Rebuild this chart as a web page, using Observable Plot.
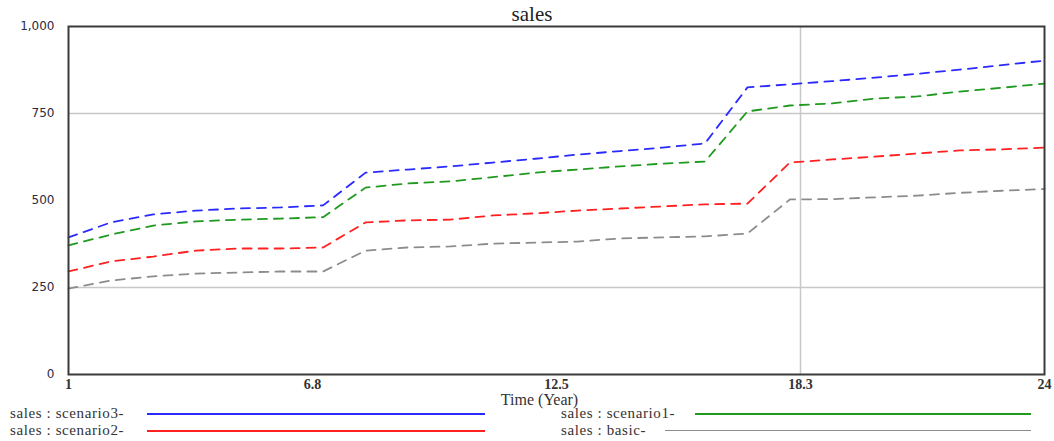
<!DOCTYPE html>
<html>
<head>
<meta charset="utf-8">
<script src="https://cdn.jsdelivr.net/npm/d3@7"></script>
<script src="https://cdn.jsdelivr.net/npm/@observablehq/plot@0.6"></script>
<style>
  body { margin: 0; background: #fff; }
  #wrap { position: relative; width: 1054px; height: 441px; overflow: hidden; }
  #title { position: absolute; left: 0; width: 1064px; top: 2px; text-align: center; font: 21px "Liberation Serif", serif; color: #222; }
  #chart { position: absolute; left: 0; top: 0; }
  .lg { position: absolute; font: 15px "Liberation Serif", serif; letter-spacing: 0.6px; color: #333; white-space: nowrap; line-height: 15px; }
  .ll { position: absolute; height: 2px; }
</style>
</head>
<body>
<div id="wrap">
  <div id="chart"></div>
  <div id="title">sales</div>
</div>
<script>
const years = [1,2,3,4,5,6,7,8,9,10,11,12,13,14,15,16,17,18,19,20,21,22,23,24];
const scenario3 = [394,437,460,471,477,480,486,580,589,598,609,620,632,642,652,664,825,834,843,853,864,876,889,902];
const scenario1 = [371,402,428,440,445,448,452,537,549,555,567,580,589,598,606,612,756,773,779,793,799,813,824,836];
const scenario2 = [296,325,339,356,362,362,365,437,443,445,457,463,471,477,483,489,491,609,618,626,635,644,647,652];
const basic     = [247,270,282,290,293,296,296,356,365,368,376,379,382,391,394,397,405,503,504,509,514,522,528,533];
const seriesNames = ["sales : scenario3-", "sales : scenario1-", "sales : scenario2-", "sales : basic-"];
const seriesColors = ["#2a2aff", "#1f9a1f", "#ff2020", "#8c8c8c"];
const yTicks = [0, 250, 500, 750, 1000];
const xTicks = [1, 6.75, 12.5, 18.25, 24];
const xTickLabels = ["1", "6.8", "12.5", "18.3", "24"];

const seriesValues = [scenario3, scenario1, scenario2, basic];
const data = [];
seriesValues.forEach((vals, i) => vals.forEach((v, j) => data.push({series: seriesNames[i], t: years[j], v})));

const plot = Plot.plot({
  width: 1054,
  height: 392,
  marginLeft: 68,
  marginRight: 10,
  marginTop: 26,
  marginBottom: 18,
  style: {background: "transparent", overflow: "visible"},
  x: {domain: [1, 24], label: null},
  y: {domain: [0, 1000], label: null},
  color: {domain: seriesNames, range: seriesColors},
  marks: [
    Plot.ruleY([250, 750], {stroke: "#c8c8c8", strokeWidth: 1.5}),
    Plot.ruleX([18.25], {stroke: "#c8c8c8", strokeWidth: 1.5}),
    Plot.line(data, {x: "t", y: "v", z: "series", stroke: "series", strokeWidth: 1.8, strokeDasharray: "9,7"}),
    Plot.frame({stroke: "#3a3a3a", strokeWidth: 2}),
    Plot.axisY({ticks: yTicks, tickFormat: d3.format(","), tickSize: 0, tickPadding: 14, fontSize: 12, fontFamily: "DejaVu Sans", fill: "#2a2a40"}),
    Plot.axisX({ticks: xTicks, tickFormat: d => xTickLabels[xTicks.indexOf(d)], tickSize: 0, tickPadding: 5, fontSize: 14, fontFamily: "Liberation Serif", fontWeight: "bold", fill: "#333"}),
    Plot.text(["Time (Year)"], {frameAnchor: "bottom", x: 12.1, dy: 30, fontSize: 16, fontFamily: "Liberation Serif", fill: "#333"})
  ]
});
document.getElementById("chart").appendChild(plot);

// Legend
const wrap = document.getElementById("wrap");
const legendPos = [
  {tx: 10, ty: 406, x1: 147, x2: 485, y: 413},
  {tx: 561, ty: 406, x1: 695, x2: 1031, y: 413},
  {tx: 10, ty: 423, x1: 147, x2: 485, y: 430},
  {tx: 561, ty: 423, x1: 665, x2: 1031, y: 430}
];
seriesNames.forEach((name, i) => {
  const p = legendPos[i];
  const t = document.createElement("div");
  t.className = "lg";
  t.style.left = p.tx + "px";
  t.style.top = p.ty + "px";
  t.textContent = name;
  wrap.appendChild(t);
  const l = document.createElement("div");
  l.className = "ll";
  l.style.left = p.x1 + "px";
  l.style.top = p.y + "px";
  l.style.width = (p.x2 - p.x1) + "px";
  l.style.background = seriesColors[i];
  if (i === 3) l.style.height = "1px";
  wrap.appendChild(l);
});
</script>
</body>
</html>
